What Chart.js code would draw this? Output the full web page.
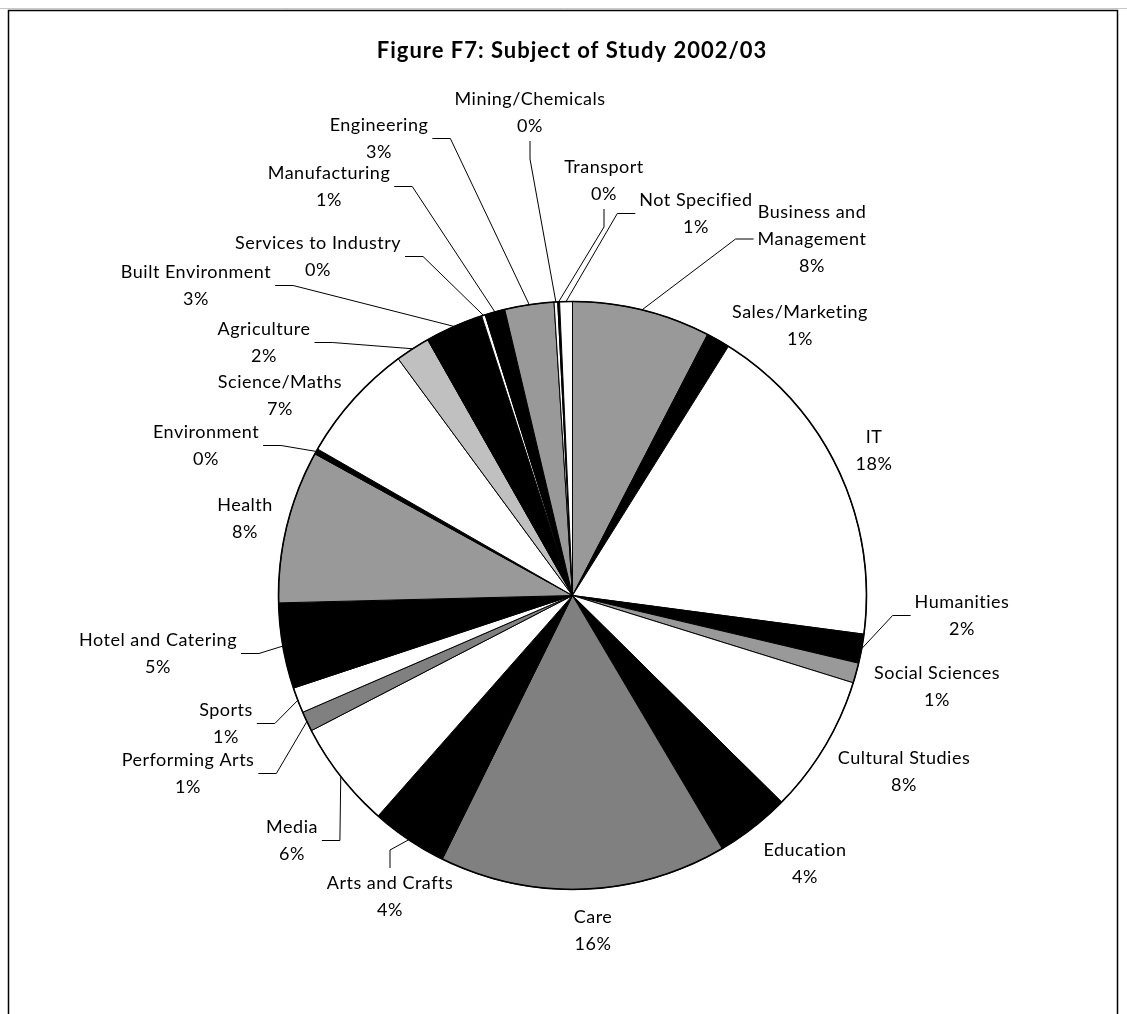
<!DOCTYPE html>
<html>
<head>
<meta charset="utf-8">
<script src="https://cdn.jsdelivr.net/npm/chart.js@4/dist/chart.umd.min.js"></script>
<style>
  body { margin: 0; background: #fff; }
  canvas { display: block; }
</style>
</head>
<body>
<canvas id="graficoEstudio" width="1127" height="1014"></canvas>
<script>
// materias en orden horario desde las 12
const materias = [
  'Business and\nManagement', 'Sales/Marketing', 'IT', 'Humanities', 'Social Sciences',
  'Cultural Studies', 'Education', 'Care', 'Arts and Crafts', 'Media', 'Performing Arts',
  'Sports', 'Hotel and Catering', 'Health', 'Environment', 'Science/Maths', 'Agriculture',
  'Built Environment', 'Services to Industry', 'Manufacturing', 'Engineering',
  'Mining/Chemicals', 'Transport', 'Not Specified'
];
const porcentajes = [
  7.6, 1.3, 18.2, 1.6, 1.1,
  7.6, 4.1, 15.8, 4.2, 5.9, 1.1,
  1.4, 4.7, 8.4, 0.3, 6.6, 1.9,
  3.2, 0.2, 1.1, 2.7,
  0.2, 0.1, 0.7
];
const colores = [
  '#999999', '#000000', '#ffffff', '#000000', '#999999',
  '#ffffff', '#000000', '#808080', '#000000', '#ffffff', '#808080',
  '#ffffff', '#000000', '#999999', '#000000', '#ffffff', '#c0c0c0',
  '#000000', '#ffffff', '#000000', '#999999',
  '#ffffff', '#000000', '#ffffff'
];
// centro de la primera linea de cada etiqueta
const posEtiquetas = [
  [812, 212], [800, 312], [874, 437], [962, 602], [937, 673],
  [904, 758], [805, 850], [593, 917], [390, 883], [292, 827], [188, 760],
  [226, 710], [158, 640], [245, 505], [206, 432], [280, 382], [264, 329],
  [196, 272], [318, 243], [329, 173], [379, 125],
  [530, 99], [604, 167], [696, 200]
];
const titulo = 'Figure F7: Subject of Study 2002/03';

const etiquetasPlugin = {
  id: 'etiquetas',
  beforeDraw(chart) {
    const ctx = chart.ctx;
    ctx.save();
    ctx.fillStyle = '#fff';
    ctx.fillRect(0, 0, chart.width, chart.height);
    ctx.strokeStyle = '#c8c8c8';
    ctx.lineWidth = 1;
    ctx.beginPath(); ctx.moveTo(0, 8.5); ctx.lineTo(chart.width, 8.5); ctx.stroke();
    ctx.strokeStyle = '#000';
    ctx.lineWidth = 1.5;
    ctx.strokeRect(8.5, 10.5, 1109, 1030);
    ctx.restore();
  },
  afterDatasetsDraw(chart) {
    const ctx = chart.ctx;
    const arcs = chart.getDatasetMeta(0).data;
    const cx = arcs[0].x, cy = arcs[0].y, r = arcs[0].outerRadius;
    const total = porcentajes.reduce((a, b) => a + b, 0);
    ctx.save();

    ctx.beginPath();
    ctx.arc(cx, cy, r, 0, Math.PI * 2);
    ctx.lineWidth = 1.6;
    ctx.strokeStyle = '#000';
    ctx.stroke();

    ctx.font = 'bold 22px Lato';
    ctx.letterSpacing = '1px';
    ctx.fillStyle = '#000';
    ctx.textAlign = 'center';
    ctx.textBaseline = 'middle';
    ctx.fillText(titulo, 572, 51);

    ctx.font = '18px Lato';
    ctx.letterSpacing = '0.5px';
    const alto = 27;
    arcs.forEach((arc, i) => {
      const lineas = materias[i].split('\n');
      lineas.push(Math.round(porcentajes[i] / total * 100) + '%');
      const [lx, ly] = posEtiquetas[i];
      const ancho = Math.max(...lineas.map(t => ctx.measureText(t).width));
      const caja = {
        izq: lx - ancho / 2, der: lx + ancho / 2,
        arriba: ly - 13, abajo: ly + (lineas.length - 1) * alto + 13
      };
      const mid = (arc.startAngle + arc.endAngle) / 2;
      const px = cx + Math.cos(mid) * r, py = cy + Math.sin(mid) * r;
      const dx = px < caja.izq ? caja.izq - px : (px > caja.der ? px - caja.der : 0);
      const dy = py < caja.arriba ? caja.arriba - py : (py > caja.abajo ? py - caja.abajo : 0);

      if (Math.hypot(dx, dy) > 25) {
        const my = (caja.arriba + caja.abajo) / 2;
        let ax, ay, ex, ey;
        if (px > caja.der + 10) { ax = caja.der + 4; ay = my; ex = ax + 18; ey = ay; }
        else if (px < caja.izq - 10) { ax = caja.izq - 4; ay = my; ex = ax - 18; ey = ay; }
        else if (py > caja.abajo) { ax = lx; ay = caja.abajo + 2; ex = ax; ey = ay + 18; }
        else { ax = lx; ay = caja.arriba - 2; ex = ax; ey = ay - 18; }
        ctx.beginPath();
        ctx.moveTo(ax, ay);
        ctx.lineTo(ex, ey);
        ctx.lineTo(px, py);
        ctx.lineWidth = 1;
        ctx.strokeStyle = '#000';
        ctx.stroke();
      }
      lineas.forEach((t, k) => ctx.fillText(t, lx, ly + k * alto));
    });
    ctx.restore();
  }
};

new Chart(document.getElementById('graficoEstudio'), {
  type: 'pie',
  data: {
    labels: materias,
    datasets: [{
      data: porcentajes,
      backgroundColor: colores,
      borderColor: '#000',
      borderWidth: 1
    }]
  },
  options: {
    responsive: false,
    animation: false,
    layout: { padding: { left: 278, top: 301, right: 260, bottom: 124 } },
    plugins: { legend: { display: false }, tooltip: { enabled: false }, title: { display: false } }
  },
  plugins: [etiquetasPlugin]
});
</script>
</body>
</html>
